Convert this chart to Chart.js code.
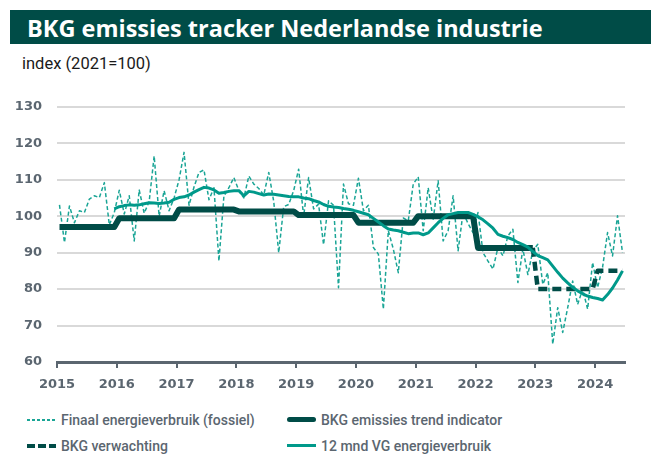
<!DOCTYPE html>
<html>
<head>
    <title>BKG emissies tracker</title>
    <script src="https://cdn.jsdelivr.net/npm/chart.js"></script>
    <style>
        body { margin: 0; background: #fff; }
        #wrap { position: relative; width: 651px; height: 459px; overflow: hidden; }
        #title { position: absolute; left: 10px; top: 10px; width: 641px; height: 34px; background: #004c47;
                 color: #fff; font: bold 23.5px "Open Sans", sans-serif; line-height: 36px; padding-left: 17px; box-sizing: border-box; }
        #sub { position: absolute; left: 22px; top: 54px; font: 16.5px Roboto, sans-serif; line-height: 20px; color: #1a1a1a; }
        #chart-box { position: absolute; left: 0; top: 84px; }
        .leg { position: absolute; font: 500 14px Roboto, sans-serif; color: #5b6670; line-height: 18px; }
        .sample { position: absolute; }
    </style>
</head>
<body>
<div id="wrap">
    <div id="title">BKG emissies tracker Nederlandse industrie</div>
    <div id="sub">index (2021=100)</div>
    <div id="chart-box"><canvas id="bkg-chart" width="651" height="312"></canvas></div>

    <div class="sample" style="left:27px; top:419px; width:29px; height:2px; background:repeating-linear-gradient(to right,#1aa596 0 3px,transparent 3px 5px);"></div>
    <div class="leg" style="left:61px; top:411px;">Finaal energieverbruik (fossiel)</div>
    <div class="sample" style="left:287px; top:417px; width:29px; height:5px; border-radius:3px; background:#004c47;"></div>
    <div class="leg" style="left:321px; top:411px;">BKG emissies trend indicator</div>
    <div class="sample" style="left:27px; top:444px; width:29px; height:4px; background:repeating-linear-gradient(to right,#004c47 0 8px,transparent 8px 11px);"></div>
    <div class="leg" style="left:61px; top:437px;">BKG verwachting</div>
    <div class="sample" style="left:287px; top:444px; width:29px; height:3px; background:#00998a;"></div>
    <div class="leg" style="left:321px; top:437px;">12 mnd VG energieverbruik</div>
</div>

<script>
    // monthly series, Jan 2015 .. Jun 2024
    const startYear = 2015;
    const finaal = [
        103.1, 92.8, 102.8, 98.2, 101.5, 101.0, 104.7, 105.6, 105.1, 109.2, 97.6, 101.0,
        107.1, 100.6, 105.6, 93.2, 107.2, 100.8, 104.0, 116.5, 100.0, 107.0, 101.5, 105.0,
        110.0, 117.5, 103.0, 108.0, 112.0, 112.7, 104.5, 107.8, 87.7, 105.5, 107.8, 110.6,
        107.0, 105.0, 111.0, 108.8, 107.6, 105.8, 112.0, 104.0, 90.0, 102.6, 103.2, 107.0,
        112.9, 100.0, 110.6, 102.0, 103.3, 92.2, 104.2, 103.0, 80.4, 108.8, 103.4, 103.0,
        110.4, 101.5, 103.0, 91.4, 89.6, 74.5, 96.0, 91.0, 84.5, 99.5, 98.7, 108.8,
        110.8, 96.0, 107.8, 99.0, 109.7, 93.2, 96.0, 105.6, 90.5, 101.0, 98.0, 95.5,
        101.0, 90.0, 87.7, 85.5, 91.4, 89.1, 94.6, 96.4, 81.8, 91.0, 84.0, 90.5,
        92.3, 81.3, 84.5, 64.9, 74.9, 68.1, 74.9, 82.2, 75.8, 80.0, 74.5, 87.3,
        80.4, 86.0, 95.5, 89.1, 100.1, 90.0
    ];
    // 12 maands voortschrijdend gemiddelde, starts Dec 2015
    const vgStart = 11;
    const vg12 = [
        102.0,
        102.6, 102.9, 103.1, 103.0, 103.1, 103.4, 103.7, 103.6, 103.5, 103.6, 103.8, 104.6,
        105.1, 105.3, 105.8, 106.6, 107.3, 107.9, 107.7, 107.2, 106.3, 106.5, 106.8, 107.0,
        107.0, 105.6, 106.8, 106.6, 106.2, 105.8, 106.1, 106.0, 105.8, 105.6, 105.4, 105.3,
        105.3, 105.0, 104.8, 104.3, 103.9, 103.2, 102.7, 102.5, 102.4, 102.1, 101.9, 101.6,
        101.2, 100.8, 100.4, 99.4, 98.4, 97.4, 96.5, 96.2, 96.0, 95.6, 95.2, 95.4,
        95.4, 94.9, 95.4, 96.8, 98.2, 99.4, 100.4, 100.7, 101.0, 101.0, 101.0, 100.5,
        99.8, 99.0, 97.9, 96.7, 95.0, 94.5, 94.1, 93.6, 92.8, 92.2, 91.5, 90.3,
        89.2, 88.6, 88.0, 86.3, 84.6, 83.0, 81.7, 80.5, 79.5, 78.7, 78.1, 77.7,
        77.4, 77.0, 78.5, 80.3, 82.5, 85.0
    ];
    // yearly step values
    const trendYears = [2015, 2016, 2017, 2018, 2019, 2020, 2021, 2022];
    const trendValues = [97.0, 99.4, 101.8, 101.3, 100.3, 98.2, 100.0, 91.3];
    const verwYears = [2023, 2024];
    const verwValues = [80.0, 85.0];
    const verwLastMonth = [11, 5];   // Dec 2023, Jun 2024
    const yearTicks = [2015, 2016, 2017, 2018, 2019, 2020, 2021, 2022, 2023, 2024];

    const monthX = (year, m) => year + (m + 0.5) / 12;

    const finaalPts = finaal.map((v, i) => ({ x: monthX(startYear, i), y: v }));
    const vgPts = vg12.map((v, i) => ({ x: monthX(startYear, vgStart + i), y: v }));
    const trendPts = [];
    trendYears.forEach((yr, i) => {
        trendPts.push({ x: monthX(yr, 0), y: trendValues[i] });
        trendPts.push({ x: monthX(yr, 11), y: trendValues[i] });
    });
    const verwPts = [trendPts[trendPts.length - 1]];
    verwYears.forEach((yr, i) => {
        verwPts.push({ x: monthX(yr, 0), y: verwValues[i] });
        verwPts.push({ x: monthX(yr, verwLastMonth[i]), y: verwValues[i] });
    });

    const axisGrey = '#5b6670';
    const tickFont = { family: 'DejaVu Sans', size: 13, weight: 'bold' };

    const ctx = document.getElementById('bkg-chart').getContext('2d');
    const chart = new Chart(ctx, {
        type: 'line',
        data: {
            datasets: [
                { label: '12 mnd VG energieverbruik', data: vgPts, borderColor: '#00998a', borderWidth: 3, order: 1 },
                { label: 'BKG verwachting', data: verwPts, borderColor: '#004c47', borderWidth: 4.5, borderDash: [9, 5], order: 2 },
                { label: 'BKG emissies trend indicator', data: trendPts, borderColor: '#004c47', borderWidth: 6, order: 3 },
                { label: 'Finaal energieverbruik (fossiel)', data: finaalPts, borderColor: '#1aa596', borderWidth: 1.5, borderDash: [4, 2.5], order: 4 }
            ]
        },
        options: {
            responsive: false,
            animation: false,
            devicePixelRatio: 1,
            layout: { padding: { top: 11, right: 26, left: 0, bottom: 0 } },
            elements: { point: { radius: 0 }, line: { tension: 0, borderJoinStyle: 'round', fill: false } },
            scales: {
                x: {
                    type: 'linear',
                    min: 2015,
                    max: 2024.5,
                    afterFit: (s) => { s.height = 34; },
                    afterBuildTicks: (s) => { s.ticks = yearTicks.map(v => ({ value: v })); },
                    grid: { drawOnChartArea: false, drawTicks: true, tickLength: 6, color: axisGrey, lineWidth: 2 },
                    border: { display: true, color: axisGrey, width: 3 },
                    ticks: { color: axisGrey, font: tickFont, padding: 9, maxRotation: 0, callback: v => String(v) }
                },
                y: {
                    min: 60,
                    max: 130,
                    afterFit: (s) => { s.width = 57; },
                    grid: { color: '#d9d9d9', lineWidth: 2, drawTicks: false },
                    border: { display: false },
                    ticks: { stepSize: 10, color: axisGrey, font: tickFont, padding: 15 }
                }
            },
            plugins: {
                legend: { display: false },
                tooltip: { enabled: false }
            }
        }
    });
</script>
</body>
</html>
